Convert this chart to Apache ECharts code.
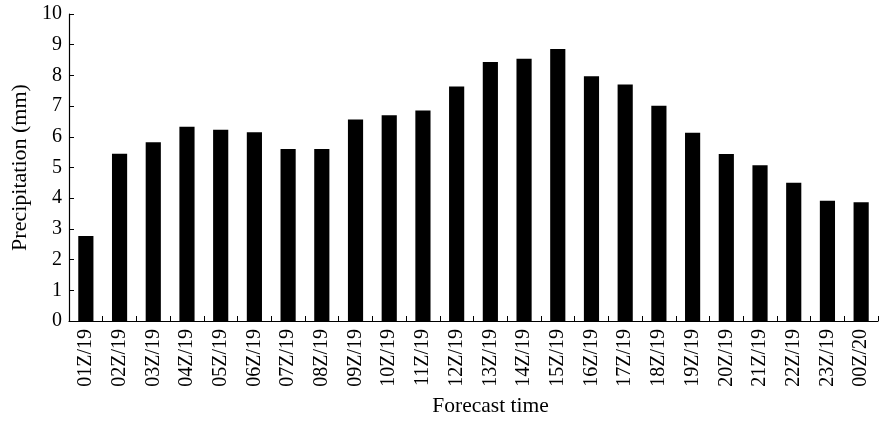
<!DOCTYPE html>
<html>
<head>
<meta charset="utf-8">
<script src="https://cdn.jsdelivr.net/npm/echarts@6/dist/echarts.min.js"></script>
<style>
  html, body { margin: 0; padding: 0; background: #fff; }
  #chart { width: 879px; height: 422px; }
</style>
</head>
<body>
<div id="chart"></div>
<script>
// Forecast hours (UTC) and hourly precipitation totals
const forecastTimes = [
  '01Z/19', '02Z/19', '03Z/19', '04Z/19', '05Z/19', '06Z/19', '07Z/19', '08Z/19',
  '09Z/19', '10Z/19', '11Z/19', '12Z/19', '13Z/19', '14Z/19', '15Z/19', '16Z/19',
  '17Z/19', '18Z/19', '19Z/19', '20Z/19', '21Z/19', '22Z/19', '23Z/19', '00Z/20'
];
const precipitation = [
  2.77, 5.45, 5.82, 6.33, 6.23, 6.15, 5.60, 5.60,
  6.56, 6.70, 6.86, 7.64, 8.44, 8.54, 8.86, 7.97,
  7.70, 7.01, 6.13, 5.44, 5.07, 4.50, 3.92, 3.87
];
const yMin = 0, yMax = 10, yStep = 1;

const font = '"Liberation Serif", "Times New Roman", serif';
const chart = echarts.init(document.getElementById('chart'), null, { renderer: 'canvas' });

chart.setOption({
  animation: false,
  backgroundColor: '#ffffff',
  grid: {
    left: 69, right: 1, top: 14, bottom: 101,
    containLabel: false,
    outerBoundsMode: 'none'
  },
  xAxis: {
    type: 'category',
    data: forecastTimes,
    name: 'Forecast time',
    nameLocation: 'middle',
    nameGap: 74,
    nameTextStyle: { fontFamily: font, fontSize: 21.5, color: '#000', padding: [0, 0, 0, 34] },
    axisLine: { lineStyle: { color: '#000', width: 1.2 } },
    axisTick: { show: true, inside: true, length: 5, alignWithLabel: false, lineStyle: { color: '#000' } },
    axisLabel: { rotate: 90, margin: 8, fontFamily: font, fontSize: 20, color: '#000', interval: 0 }
  },
  yAxis: {
    type: 'value',
    min: yMin,
    max: yMax,
    interval: yStep,
    name: 'Precipitation (mm)',
    nameLocation: 'middle',
    nameGap: 38,
    nameTextStyle: { fontFamily: font, fontSize: 22, color: '#000' },
    splitLine: { show: false },
    axisLine: { show: true, lineStyle: { color: '#000', width: 1.2 } },
    axisTick: { show: true, inside: true, length: 5, lineStyle: { color: '#000' } },
    axisLabel: { margin: 7, fontFamily: font, fontSize: 20, color: '#000' }
  },
  series: [{
    type: 'bar',
    data: precipitation,
    barWidth: '45%',
    itemStyle: { color: '#000' }
  }]
});
</script>
</body>
</html>
